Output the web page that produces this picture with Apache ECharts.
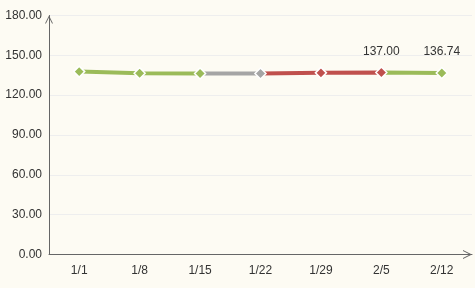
<!DOCTYPE html>
<html>
<head>
<meta charset="utf-8">
<script src="https://cdn.jsdelivr.net/npm/echarts@6/dist/echarts.min.js"></script>
<style>
html,body{margin:0;padding:0;background:#fdfbf3;}
#c{width:475px;height:288px;}
</style>
</head>
<body>
<div id="c"></div>
<script>
const categories = ['1/1','1/8','1/15','1/22','1/29','2/5','2/12'];
const values = [137.75, 136.5, 136.3, 136.3, 136.8, 137.00, 136.74];
const labeledIndices = [5, 6];
const yTicks = {min: 0, max: 180, interval: 30};

const GREEN = '#9bbb59', RED = '#c0504d', GRAY = '#a5a5a5';
const chevron = 'path://M0,10 L5,0 L10,10 L8.8,10 L5,2.4 L1.2,10 Z';

const chart = echarts.init(document.getElementById('c'));
chart.setOption({
  backgroundColor: '#fdfbf3',
  animation: false,
  grid: {left: 49, right: 3, top: 15.5, bottom: 33.5},
  xAxis: {
    type: 'category',
    data: categories,
    boundaryGap: true,
    axisLine: {show: true, lineStyle: {color: '#666', width: 1},
      symbol: ['none', chevron], symbolSize: [11, 9], symbolOffset: [0, -4.5]},
    axisTick: {show: false},
    axisLabel: {color: '#333', fontSize: 12, margin: 10, fontFamily: 'Liberation Sans, Arial, sans-serif'},
    splitLine: {show: false}
  },
  yAxis: {
    type: 'value',
    min: yTicks.min, max: yTicks.max, interval: yTicks.interval,
    axisLine: {show: true, lineStyle: {color: '#666', width: 1},
      symbol: ['none', chevron], symbolSize: [10, 8], symbolOffset: [0, -4]},
    axisTick: {show: false},
    axisLabel: {color: '#333', fontSize: 12, margin: 7, fontFamily: 'Liberation Sans, Arial, sans-serif',
      formatter: v => v.toFixed(2)},
    splitLine: {show: true, lineStyle: {color: '#eeeeee', width: 1}}
  },
  visualMap: {
    show: false,
    type: 'piecewise',
    dimension: 0,
    seriesIndex: 0,
    pieces: [
      {lte: 2, color: GREEN},
      {gt: 2, lte: 3, color: GRAY},
      {gt: 3, lte: 5, color: RED},
      {gt: 5, color: GREEN}
    ]
  },
  series: [{
    type: 'line',
    data: values.map((v, i) => ({
      value: v,
      label: {show: labeledIndices.includes(i)}
    })),
    symbol: 'diamond',
    symbolSize: 11,
    showAllSymbol: true,
    lineStyle: {width: 4},
    itemStyle: {borderColor: '#ffffff', borderWidth: 1.5},
    label: {
      position: 'top', distance: 9, color: '#333', fontSize: 12,
      fontFamily: 'Liberation Sans, Arial, sans-serif',
      formatter: p => p.value.toFixed(2)
    }
  }]
});
</script>
</body>
</html>
